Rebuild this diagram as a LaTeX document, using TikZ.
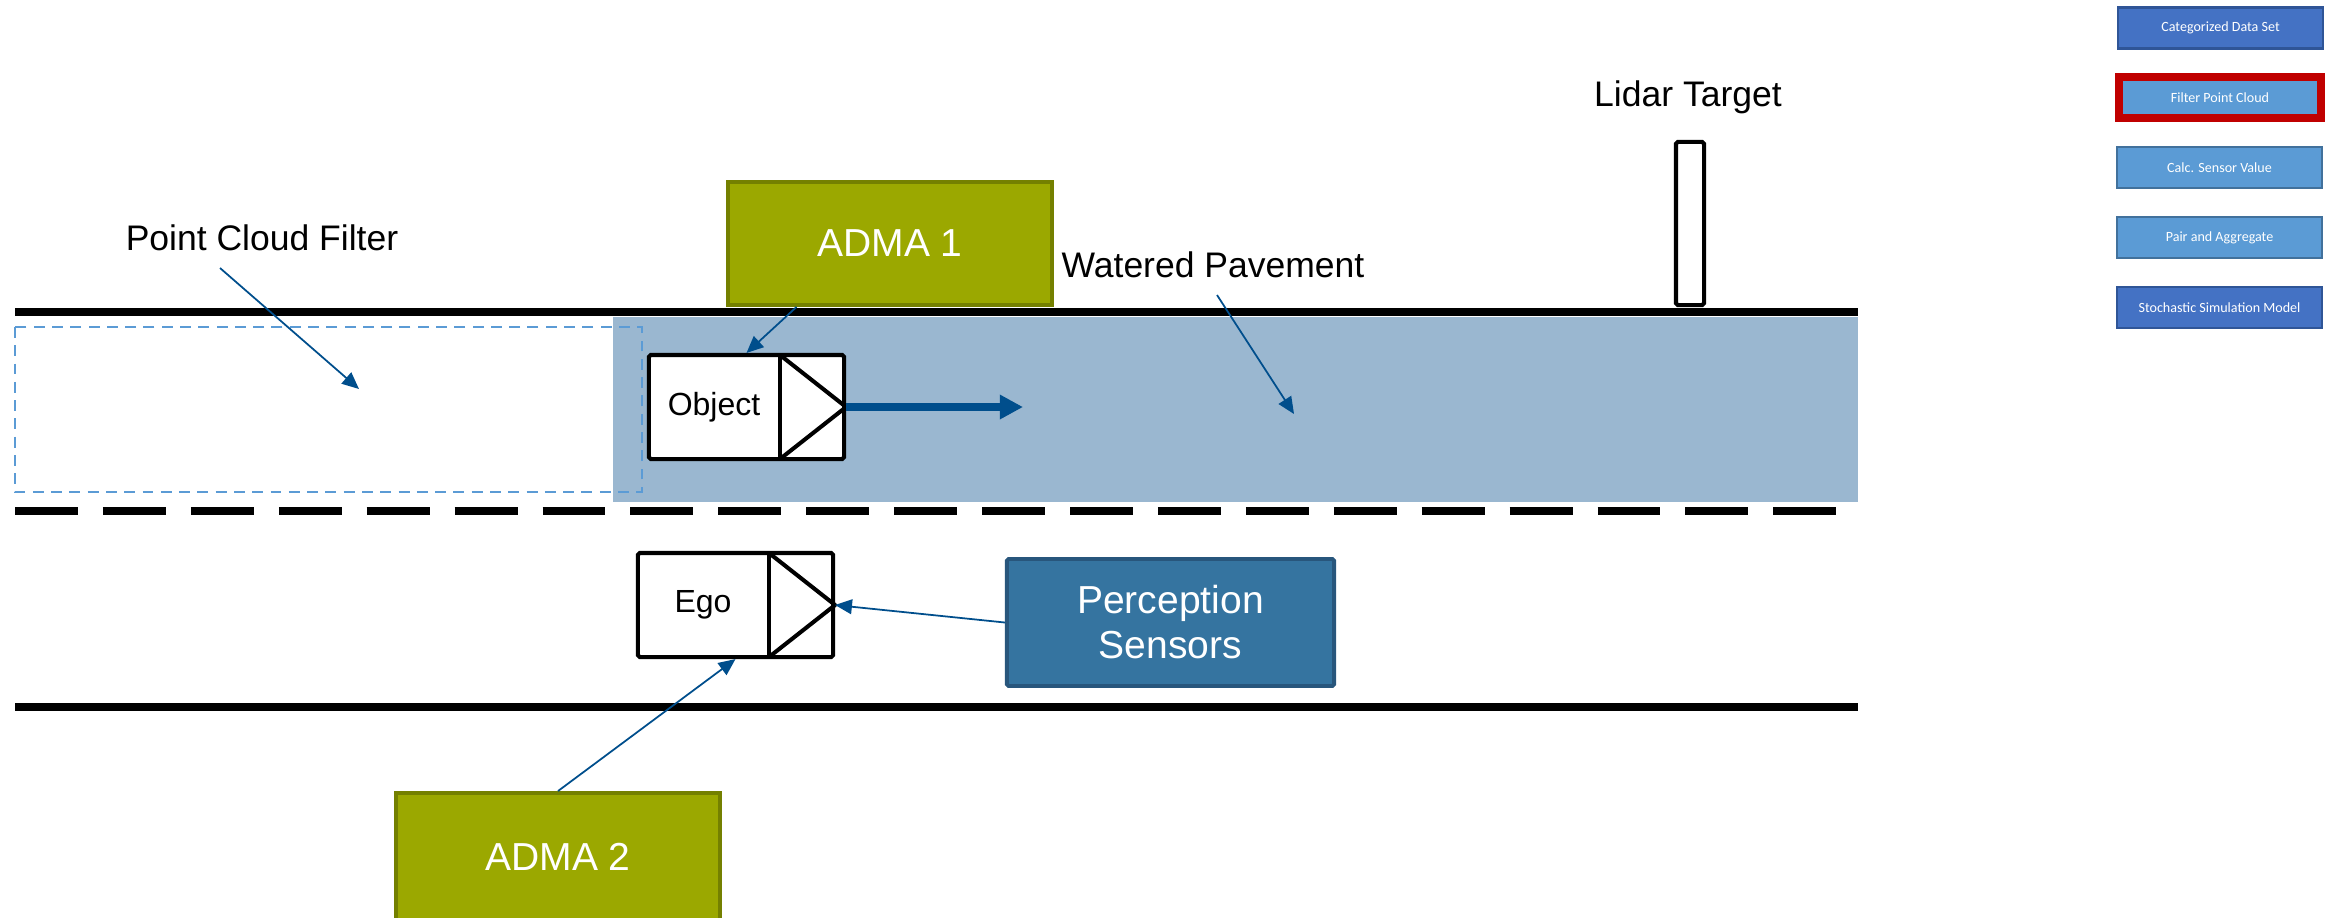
\documentclass[tikz,border=0pt]{standalone}
\usepackage{fontspec}
\setmainfont{Liberation Sans}
\newfontfamily\legfont{Carlito}
\usetikzlibrary{arrows.meta,calc}
\definecolor{wetblue}{RGB}{154,183,208}
\definecolor{filterblue}{RGB}{91,155,213}
\definecolor{arrowblue}{RGB}{0,78,140}
\definecolor{admafill}{RGB}{155,168,0}
\definecolor{admaline}{RGB}{116,128,0}
\definecolor{percfill}{RGB}{53,116,160}
\definecolor{percline}{RGB}{40,86,124}
\definecolor{legdark}{RGB}{68,114,196}
\definecolor{legdarkline}{RGB}{47,85,151}
\definecolor{leglight}{RGB}{91,155,213}
\definecolor{leglightline}{RGB}{65,113,156}
\definecolor{legred}{RGB}{192,0,0}
\tikzset{
  road/.style={line width=2.25pt},
  vline/.style={line width=1.15pt, line join=round},
  vbox/.style={draw, line width=1.15pt, fill=white, rounded corners=0.5pt, inner sep=0pt},
  vtext/.style={font=\fontsize{9.1}{11}\selectfont, inner sep=0pt},
  lbl/.style={font=\fontsize{10.1}{12}\selectfont, inner sep=0pt},
  thinarrow/.style={draw=arrowblue, line width=0.5pt, -{Triangle[length=4.8pt,width=4.2pt]}},
  thickarrow/.style={draw=arrowblue, line width=2.3pt, -{Triangle[length=6.6pt,width=6.6pt]}},
  adma/.style={draw=admaline, fill=admafill, line width=1.1pt, text=white, font=\fontsize{11.1}{12.8}\selectfont, inner sep=0pt},
  perc/.style={draw=percline, fill=percfill, line width=1.1pt, text=white, align=center, font=\fontsize{11.1}{12.8}\selectfont, inner sep=0pt, rounded corners=0.5pt},
  legbox/.style={minimum width=2.05cm, minimum height=0.41cm, inner sep=0pt, text=white, font=\legfont\fontsize{4}{5}\selectfont, line width=0.7pt},
}
\begin{document}
\begin{tikzpicture}[x=0.01cm,y=-0.01cm]
\useasboundingbox (0,0) rectangle (2333,917);
\clip (0,0) rectangle (2333,917);
% watered pavement
\fill[wetblue] (613,317) rectangle (1858,502);
% point cloud filter area
\draw[filterblue, line width=0.75pt, dash pattern=on 3.1pt off 2.1pt] (15,327) rectangle (642,492);
% road lines
\draw[road] (15,312) -- (1858,312);
\draw[road, dash pattern=on 17.9pt off 7.1pt] (15,511) -- (1845,511);
\draw[road] (15,707) -- (1858,707);
% lidar target
\node[draw, line width=1.15pt, rounded corners=0.5pt, minimum width=0.28cm, minimum height=1.63cm, inner sep=0pt] (lidar) at (1690,223.5) {};
\node[lbl] (lidarlbl) at (1688,97) {Lidar Target};
% ADMA boxes
\node[adma, minimum width=3.24cm, minimum height=1.23cm] (adma1) at (890,243.5) {ADMA 1};
\node[adma, minimum width=3.24cm, minimum height=1.28cm] (adma2) at (558,857) {ADMA 2};
% perception sensors
\node[perc, minimum width=3.27cm, minimum height=1.27cm] (perc) at (1170.5,622.5) {Perception\\Sensors};
% object
\node[vbox, minimum width=1.95cm, minimum height=1.04cm] (obj) at (746.5,407) {};
\draw[vline] (780,355) -- (780,459);
\draw[vline] (780,355) -- (obj.east) -- (780,459);
\node[vtext] (objtxt) at (714,407) {Object};
\coordinate (objgo) at (1023,407);
\draw[thickarrow] (obj.east) -- (objgo);
% ego
\node[vbox, minimum width=1.95cm, minimum height=1.04cm] (ego) at (735.5,605) {};
\draw[vline] (769,553) -- (769,657);
\draw[vline] (769,553) -- (ego.east) -- (769,657);
\node[vtext] (egotxt) at (703,605) {Ego};
% labels
\node[lbl] (pcf) at (262,238) {Point Cloud Filter};
\node[lbl] (wet) at (1213,265) {Watered Pavement};
\coordinate (pcfstart) at (220,268);
\coordinate (pcfend) at (359,389);
\coordinate (wetstart) at (1217,295);
\coordinate (wetend) at (1294,414);
\draw[thinarrow] (pcfstart) -- (pcfend);
\draw[thinarrow] (wetstart) -- (wetend);
% connectors
\draw[thinarrow] ($(adma1.south west)!0.215!(adma1.south east)$) -- (obj.north);
\draw[thinarrow] (adma2.north) -- (ego.south);
\draw[thinarrow] (perc.west) -- (ego.east);
% legend
\node[legbox, draw=legdarkline, fill=legdark] (l1) at (2220.5,28) {Categorized Data Set};
\node[legbox, draw=legred, fill=leglight, line width=2.2pt, minimum width=2.02cm, minimum height=0.41cm] (l2) at (2220,97.5) {Filter Point Cloud};
\node[legbox, draw=leglightline, fill=leglight] (l3) at (2219.5,167.5) {Calc. Sensor Value};
\node[legbox, draw=leglightline, fill=leglight] (l4) at (2219.5,237.5) {Pair and Aggregate};
\node[legbox, draw=legdarkline, fill=legdark] (l5) at (2219.5,307.5) {Stochastic Simulation Model};
\end{tikzpicture}
\end{document}
